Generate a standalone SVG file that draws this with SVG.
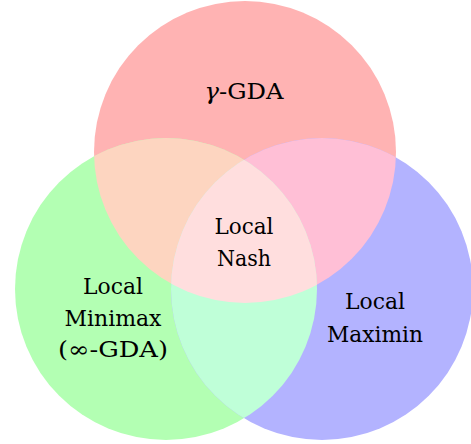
<svg xmlns="http://www.w3.org/2000/svg" width="471" height="444" viewBox="0 0 471 444">
<defs>
<circle id="cr" cx="245" cy="152" r="151"/>
<circle id="cg" cx="166" cy="289" r="151"/>
<circle id="cb" cx="322" cy="289" r="151"/>
<clipPath id="kr"><use href="#cr"/></clipPath>
<clipPath id="kg"><use href="#cg"/></clipPath>
</defs>
<rect width="471" height="444" fill="#fff"/>
<g id="sets">
<g id="red"><use href="#cr" fill="#FFB3B3"/></g>
<g id="green"><use href="#cg" fill="#B3FFB3"/></g>
<g id="blue"><use href="#cb" fill="#B3B3FF"/></g>
<g id="red-green" clip-path="url(#kr)"><use href="#cg" fill="#FDD5C0"/></g>
<g id="red-blue" clip-path="url(#kr)"><use href="#cb" fill="#FFBFD6"/></g>
<g id="green-blue" clip-path="url(#kg)"><use href="#cb" fill="#BFFFD8"/></g>
<g id="all" clip-path="url(#kg)"><g clip-path="url(#kr)"><use href="#cb" fill="#FFDEDE"/></g></g>
</g>
<g id="labels" font-family="DejaVu Serif, Liberation Serif, serif" font-size="22" text-anchor="middle" fill="#000" lengthAdjust="spacingAndGlyphs">
<text x="244" y="99" textLength="79" lengthAdjust="spacingAndGlyphs"><tspan font-style="italic">γ</tspan>-GDA</text>
<text x="244" y="234" textLength="59" lengthAdjust="spacingAndGlyphs">Local</text>
<text x="244" y="266" textLength="54" lengthAdjust="spacingAndGlyphs">Nash</text>
<text x="113" y="294" textLength="60" lengthAdjust="spacingAndGlyphs">Local</text>
<text x="113" y="326" textLength="97" lengthAdjust="spacingAndGlyphs">Minimax</text>
<text x="113" y="357" textLength="110" lengthAdjust="spacingAndGlyphs">(∞-GDA)</text>
<text x="375" y="309" textLength="60" lengthAdjust="spacingAndGlyphs">Local</text>
<text x="375" y="342" textLength="96" lengthAdjust="spacingAndGlyphs">Maximin</text>
</g>
</svg>
